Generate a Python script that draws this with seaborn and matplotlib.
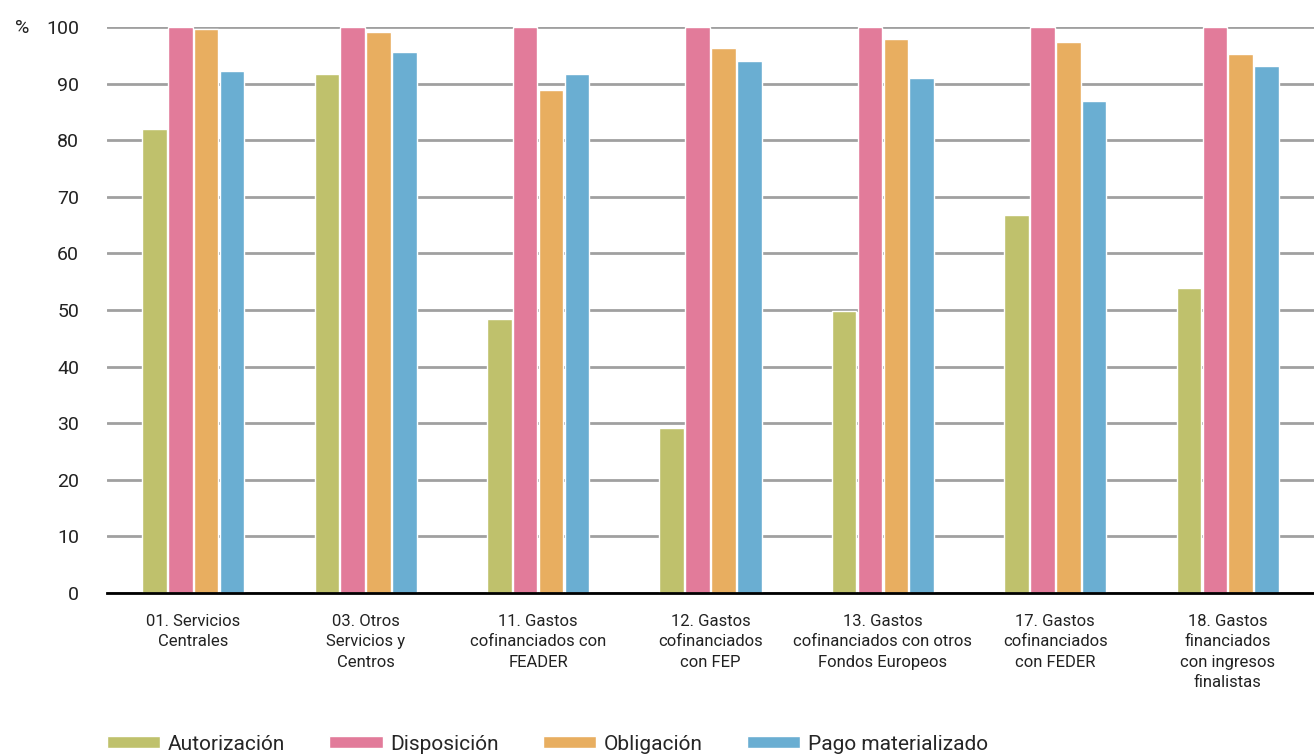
import matplotlib
matplotlib.use("Agg")
import matplotlib.pyplot as plt
import seaborn as sns
import pandas as pd
import numpy as np

categories = [
    "01. Servicios\nCentrales",
    "03. Otros\nServicios y\nCentros",
    "11. Gastos\ncofinanciados con\nFEADER",
    "12. Gastos\ncofinanciados\ncon FEP",
    "13. Gastos\ncofinanciados con otros\nFondos Europeos",
    "17. Gastos\ncofinanciados\ncon FEDER",
    "18. Gastos\nfinanciados\ncon ingresos\nfinalistas",
]
series_names = ["Autorización", "Disposición", "Obligación", "Pago materializado"]
autorizacion = [82.0, 91.7, 48.4, 29.2, 49.8, 66.8, 53.9]
disposicion = [100, 100, 100, 100, 100, 100, 100]
obligacion = [99.6, 99.1, 88.9, 96.3, 97.9, 97.3, 95.2]
pago = [92.2, 95.6, 91.7, 94.0, 91.0, 86.9, 93.1]
colors = ["#BFC16C", "#E27B9A", "#E8AE60", "#6AAED2"]
yticks = [0, 10, 20, 30, 40, 50, 60, 70, 80, 90, 100]

rows = []
for name, vals in zip(series_names, [autorizacion, disposicion, obligacion, pago]):
    for c, v in zip(categories, vals):
        rows.append({"cat": c, "serie": name, "val": v})
df = pd.DataFrame(rows)

sns.set_theme(style="white")
plt.rcParams['font.family'] = ['Roboto', 'DejaVu Sans']

fig = plt.figure(figsize=(13.14, 7.56), dpi=100)
ax = fig.add_axes([107/1314, 1-593/756, 1-107/1314, (593-27)/756])

sns.barplot(data=df, x="cat", y="val", hue="serie", order=categories,
            hue_order=series_names, palette=colors, width=0.6, gap=0.05,
            saturation=1, ax=ax, legend=True, zorder=3)

ax.set_ylim(0, 100)
ax.set_xlim(-0.5, len(categories) - 0.5)
ax.set_yticks(yticks)
ax.set_yticklabels([str(t) for t in yticks], fontsize=14, color="#222222")
ax.yaxis.grid(True, color="#a0a0a0", linewidth=2, zorder=0)
ax.set_axisbelow(True)
ax.set_xlabel("")
ax.set_ylabel("")
for s in ["left", "right", "top"]:
    ax.spines[s].set_visible(False)
ax.spines["bottom"].set_color("black")
ax.spines["bottom"].set_linewidth(2)
ax.spines["bottom"].set_zorder(5)

ax.set_xticks(range(len(categories)))
ax.set_xticklabels(categories, fontsize=12, color="#222222", linespacing=1.45, va="top")
ax.tick_params(axis="x", which="major", length=0, pad=15)
ax.set_xticks(np.arange(0.5, len(categories) - 0.5, 1), minor=True)
ax.tick_params(axis="x", which="minor", length=9, width=1.8, color="black", direction="out")
ax.tick_params(axis="y", length=0, pad=20)

ax.text(15/1314, 1-28/756, "%", transform=fig.transFigure, fontsize=14, color="#222222",
        ha="left", va="center")

handles, labels = ax.get_legend_handles_labels()
fig.legend(handles, labels, loc="center left", bbox_to_anchor=(107/1314, 1-744/756),
           ncol=4, frameon=False, fontsize=15, handlelength=2.55, handleheight=0.55,
           columnspacing=2.15, handletextpad=0.35, borderaxespad=0, borderpad=0)
ax.get_legend().remove()

fig.savefig("out.png", dpi=100)
